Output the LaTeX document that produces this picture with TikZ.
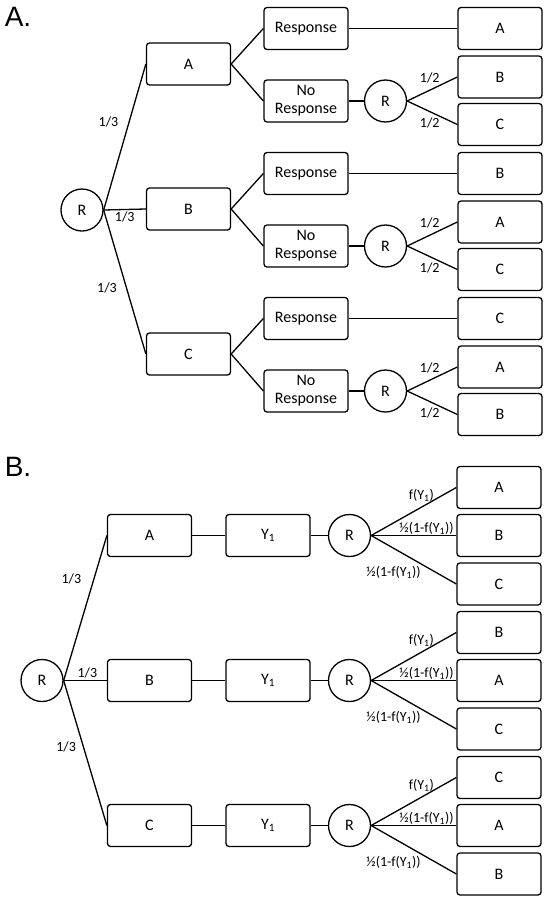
\documentclass[tikz,border=0pt]{standalone}
\usepackage{fontspec}
\setmainfont{Carlito}
\newfontfamily\panelfont{Liberation Sans}
\usetikzlibrary{positioning}
\tikzset{
  tree box/.style={rectangle,rounded corners=3pt,draw=black,fill=white,
    line width=1.3pt,minimum width=84pt,minimum height=42pt,inner sep=0pt,
    align=center,font=\fontsize{16}{18}\selectfont},
  tree chance/.style={circle,draw=black,fill=white,line width=1.3pt,
    minimum size=42pt,inner sep=0pt,font=\fontsize{16}{18}\selectfont},
  tree edge/.style={line width=1.3pt},
  prob label/.style={font=\fontsize{14}{16}\selectfont,inner sep=1pt},
  panel label/.style={font=\panelfont\fontsize{28}{30}\selectfont,inner sep=0pt}
}

\begin{document}
\begin{tikzpicture}[x=1pt,y=-1pt]
  \useasboundingbox (0,0) rectangle (547,900);
  % panel A
  \node[panel label] (panela) at (18,17) {A.};
  \node[tree chance] (aroot) at (82,210) {R};
  \foreach \mid/\resp/\fina/\finb [count=\i] in {A/A/B/C,B/B/A/C,C/C/A/B}{
    \pgfmathsetmacro{\yo}{28.5+145*(\i-1)}
    \node[tree box] (amid\i) at (188.5,\yo+35.5) {\mid};
    \node[tree box] (aresp\i) at (306,\yo) {Response};
    \node[tree box] (anoresp\i) at (306,\yo+72.5) {No\\Response};
    \node[tree chance] (ar\i) at (385.5,\yo+72.5) {R};
    \node[tree box] (afinr\i) at (500,\yo) {\resp};
    \node[tree box] (afina\i) at (500,\yo+48.5) {\fina};
    \node[tree box] (afinb\i) at (500,\yo+96) {\finb};
    \draw[tree edge] (amid\i.east) -- (aresp\i.west);
    \draw[tree edge] (amid\i.east) -- (anoresp\i.west);
    \draw[tree edge] (aresp\i) -- (afinr\i);
    \draw[tree edge] (anoresp\i) -- (ar\i);
    \draw[tree edge] (ar\i.east) -- node[prob label,pos=0.45,above=5pt] (ahalfa\i) {1/2} (afina\i.west);
    \draw[tree edge] (ar\i.east) -- node[prob label,pos=0.45,below=5pt] (ahalfb\i) {1/2} (afinb\i.west);
  }
  \draw[tree edge] (aroot.east) -- node[prob label,pos=0.6,left=9pt] (athirda) {1/3} (amid1.west);
  \draw[tree edge] (aroot.east) -- node[prob label,midway,below=1pt] (athirdb) {1/3} (amid2.west);
  \draw[tree edge] (aroot.east) -- node[prob label,pos=0.54,left=8pt] (athirdc) {1/3} (amid3.west);

  % panel B
  \node[panel label] (panelb) at (18,467) {B.};
  \node[tree chance] (broot) at (42,680.5) {R};
  \foreach \mid/\fina/\finb/\finc [count=\i] in {A/A/B/C,B/B/A/C,C/C/A/B}{
    \pgfmathsetmacro{\yo}{535.5+145*(\i-1)}
    \node[tree box] (bmid\i) at (149.5,\yo) {\mid};
    \node[tree box] (bobs\i) at (268,\yo) {Y\textsubscript{1}};
    \node[tree chance] (br\i) at (349.5,\yo) {R};
    \node[tree box] (bfina\i) at (499,\yo-48) {\fina};
    \node[tree box] (bfinb\i) at (499,\yo) {\finb};
    \node[tree box] (bfinc\i) at (499,\yo+48.5) {\finc};
    \draw[tree edge] (bmid\i) -- (bobs\i);
    \draw[tree edge] (bobs\i) -- (br\i);
    \draw[tree edge] (br\i.east) -- node[prob label,pos=0.59,above=4pt] (bfy\i) {f(Y\textsubscript{1})} (bfina\i.west);
    \draw[tree edge] (br\i.east) -- node[prob label,pos=0.65,above,inner sep=0.5pt] (bfyb\i) {½(1-f(Y\textsubscript{1}))} (bfinb\i.west);
    \draw[tree edge] (br\i.east) -- node[prob label,pos=0.6,below left] (bfyc\i) {½(1-f(Y\textsubscript{1}))} (bfinc\i.west);
  }
  \draw[tree edge] (broot.east) -- node[prob label,pos=0.7,left=11pt] (bthirda) {1/3} (bmid1.west);
  \draw[tree edge] (broot.east) -- node[prob label,pos=0.55,above=1pt] (bthirdb) {1/3} (bmid2.west);
  \draw[tree edge] (broot.east) -- node[prob label,pos=0.46,left=6pt] (bthirdc) {1/3} (bmid3.west);
\end{tikzpicture}
\end{document}
